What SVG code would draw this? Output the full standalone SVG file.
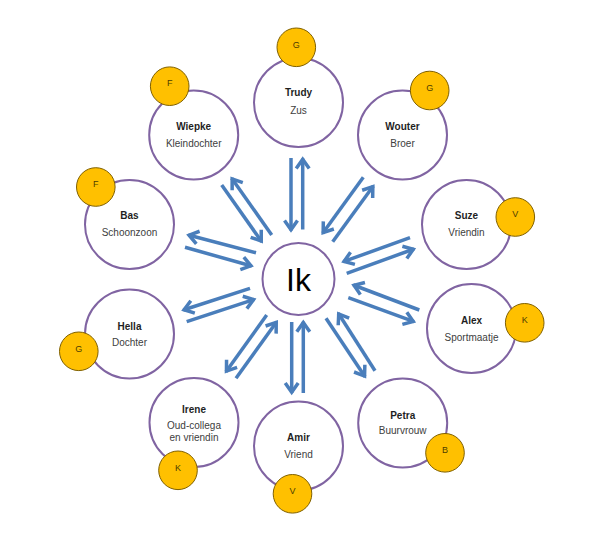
<svg xmlns="http://www.w3.org/2000/svg" width="600" height="551" viewBox="0 0 600 551">
<style>
.ring{fill:#fff;stroke:#8064A2;stroke-width:2}
.badge{fill:#FFC000;stroke:#7F6000;stroke-width:1}
.bl{font-family:"Liberation Sans",Arial,sans-serif;font-size:9px;fill:#4d3d00;text-anchor:middle}
.nm{font-family:"Liberation Sans",Arial,sans-serif;font-size:10px;font-weight:bold;fill:#1f1f1f;text-anchor:middle}
.rl{font-family:"Liberation Sans",Arial,sans-serif;font-size:10px;fill:#404040;text-anchor:middle}
.ik{font-family:"Liberation Sans",Arial,sans-serif;font-size:32px;fill:#000;text-anchor:middle}
.arr{stroke:#4A7EBB;stroke-width:3.5;fill:none;marker-end:url(#ah)}
</style>
<defs>
<marker id="ah" markerUnits="userSpaceOnUse" viewBox="-14 -10 20 20" markerWidth="20" markerHeight="20" refX="0" refY="0" orient="auto">
<path d="M-10,-6.5 L-0.8,0 L-10,6.5" fill="none" stroke="#4A7EBB" stroke-width="3.5" stroke-linejoin="miter"/>
</marker>
</defs>
<rect width="600" height="551" fill="#fff"/>
<g id="connectors">
<line class="arr" x1="291" y1="158" x2="291" y2="230.5"/>
<line class="arr" x1="302.7" y1="229.5" x2="302.7" y2="158.5"/>
<line class="arr" x1="363.3" y1="177.3" x2="322.7" y2="233.3"/>
<line class="arr" x1="332.7" y1="241.7" x2="373.3" y2="186"/>
<line class="arr" x1="410" y1="237.7" x2="343.3" y2="261.7"/>
<line class="arr" x1="346.7" y1="273.3" x2="414" y2="249"/>
<line class="arr" x1="419.3" y1="310" x2="353.3" y2="285"/>
<line class="arr" x1="348.3" y1="297.7" x2="414" y2="321.7"/>
<line class="arr" x1="326" y1="318.3" x2="365" y2="376.7"/>
<line class="arr" x1="375" y1="370.7" x2="338.3" y2="313.3"/>
<line class="arr" x1="291.7" y1="322" x2="291.7" y2="393"/>
<line class="arr" x1="303.3" y1="393" x2="303.3" y2="321.7"/>
<line class="arr" x1="266.7" y1="315" x2="226" y2="371.7"/>
<line class="arr" x1="236" y1="378.3" x2="276.7" y2="321.7"/>
<line class="arr" x1="250" y1="288.3" x2="183.3" y2="310"/>
<line class="arr" x1="186.7" y1="321.7" x2="254.3" y2="299.3"/>
<line class="arr" x1="256" y1="252.7" x2="188.3" y2="235"/>
<line class="arr" x1="185" y1="247.3" x2="251.7" y2="266"/>
<line class="arr" x1="221.7" y1="185" x2="261.7" y2="241.7"/>
<line class="arr" x1="271.7" y1="235" x2="231.7" y2="178.3"/>
</g>
<g id="ik">
<circle class="ring" cx="298.5" cy="279" r="36"/>
<text class="ik" x="298.5" y="290.5">Ik</text>
</g>
<g id="trudy">
<circle class="ring" cx="298.5" cy="102.5" r="44.5"/>
<text class="nm" x="298.5" y="96.2">Trudy</text>
<text class="rl" x="298.5" y="114">Zus</text>
<circle class="badge" cx="296.3" cy="47.3" r="19.3"/>
<text class="bl" x="296.3" y="47.5">G</text>
</g>
<g id="wouter">
<circle class="ring" cx="402.5" cy="135" r="44.5"/>
<text class="nm" x="402.5" y="130.2">Wouter</text>
<text class="rl" x="402.5" y="146.6">Broer</text>
<circle class="badge" cx="429.7" cy="90.5" r="19.3"/>
<text class="bl" x="429.7" y="90.7">G</text>
</g>
<g id="suze">
<circle class="ring" cx="466.5" cy="224.5" r="44.5"/>
<text class="nm" x="466.5" y="219.2">Suze</text>
<text class="rl" x="466.5" y="235.6">Vriendin</text>
<circle class="badge" cx="515.3" cy="217" r="19.3"/>
<text class="bl" x="515.3" y="217.2">V</text>
</g>
<g id="alex">
<circle class="ring" cx="471.5" cy="328.5" r="44.5"/>
<text class="nm" x="471.5" y="323.5">Alex</text>
<text class="rl" x="471.5" y="340.6">Sportmaatje</text>
<circle class="badge" cx="524.7" cy="322.8" r="19.3"/>
<text class="bl" x="524.7" y="323">K</text>
</g>
<g id="petra">
<circle class="ring" cx="402.7" cy="423" r="44.5"/>
<text class="nm" x="402.7" y="418.5">Petra</text>
<text class="rl" x="402.7" y="434.3">Buurvrouw</text>
<circle class="badge" cx="445" cy="452.8" r="19.3"/>
<text class="bl" x="445" y="453">B</text>
</g>
<g id="amir">
<circle class="ring" cx="298.5" cy="446" r="44.5"/>
<text class="nm" x="298.5" y="441.2">Amir</text>
<text class="rl" x="298.5" y="457.6">Vriend</text>
<circle class="badge" cx="292.5" cy="493.8" r="19.3"/>
<text class="bl" x="292.5" y="494">V</text>
</g>
<g id="irene">
<circle class="ring" cx="194" cy="422.5" r="44.5"/>
<text class="nm" x="194" y="412.5">Irene</text>
<text class="rl" x="194" y="429">Oud-collega</text>
<text class="rl" x="194" y="441">en vriendin</text>
<circle class="badge" cx="178" cy="470.3" r="19.3"/>
<text class="bl" x="178" y="470.5">K</text>
</g>
<g id="hella">
<circle class="ring" cx="129.5" cy="334" r="44.5"/>
<text class="nm" x="129.5" y="329.5">Hella</text>
<text class="rl" x="129.5" y="346">Dochter</text>
<circle class="badge" cx="78.8" cy="351.3" r="19.3"/>
<text class="bl" x="78.8" y="351.5">G</text>
</g>
<g id="bas">
<circle class="ring" cx="129.5" cy="224.5" r="44.5"/>
<text class="nm" x="129.5" y="219.2">Bas</text>
<text class="rl" x="129.5" y="235.6">Schoonzoon</text>
<circle class="badge" cx="95.8" cy="187" r="19.3"/>
<text class="bl" x="95.8" y="187.2">F</text>
</g>
<g id="wiepke">
<circle class="ring" cx="193.7" cy="135" r="44.5"/>
<text class="nm" x="193.7" y="130.2">Wiepke</text>
<text class="rl" x="193.7" y="146.6">Kleindochter</text>
<circle class="badge" cx="169.7" cy="86.2" r="19.3"/>
<text class="bl" x="169.7" y="86.4">F</text>
</g>
</svg>
